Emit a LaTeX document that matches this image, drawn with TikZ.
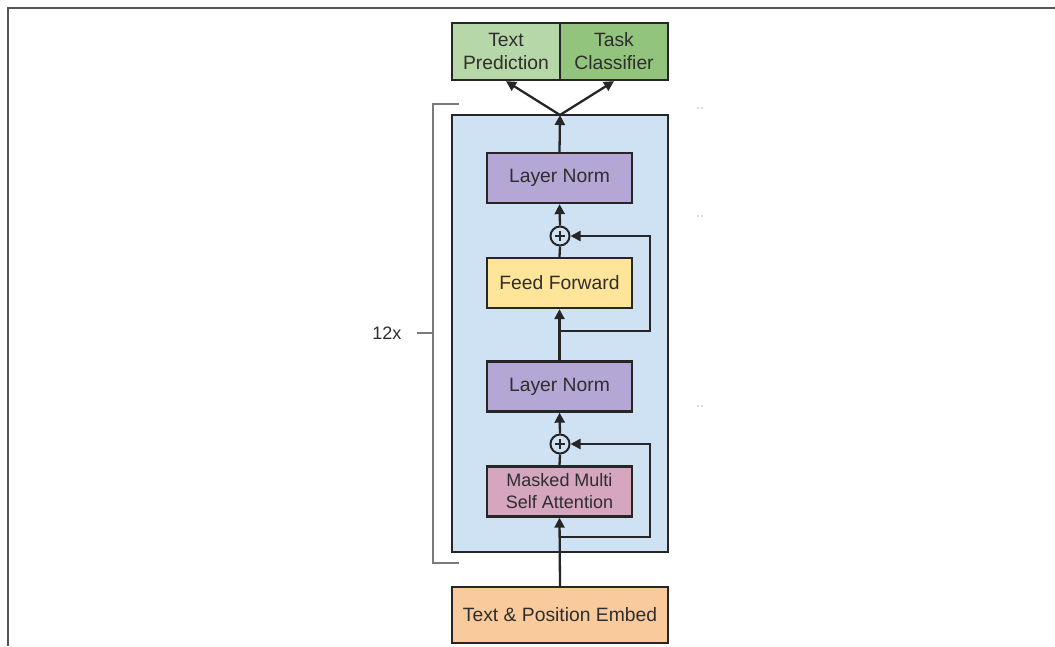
\documentclass[tikz,border=0pt]{standalone}
\usepackage{fontspec}
\setmainfont{Liberation Sans}
\usetikzlibrary{arrows.meta,calc}
\definecolor{edge}{HTML}{262626}
\definecolor{ink}{HTML}{2E2E2E}
\definecolor{blueback}{HTML}{CFE2F3}
\definecolor{normfill}{HTML}{B4A7D6}
\definecolor{fffill}{HTML}{FFE599}
\definecolor{attfill}{HTML}{D5A6BD}
\definecolor{embfill}{HTML}{F9CB9C}
\definecolor{lightgreen}{HTML}{B6D7A8}
\definecolor{darkgreen}{HTML}{93C47D}
\definecolor{bracketgrey}{HTML}{7A7A7A}
\definecolor{framegrey}{HTML}{555555}
\begin{document}
\begin{tikzpicture}[x=1pt,y=-1pt,
  blk/.style={draw=edge, line width=2.3pt, inner sep=0pt, align=center,
    text=ink, font=\fontsize{19.3}{23}\selectfont},
  inner/.style={blk, minimum width=145pt, minimum height=50pt},
  sumnode/.style={circle, draw=edge, line width=2pt, fill=blueback,
    minimum size=19pt, inner sep=0pt},
  arr/.style={draw=edge, line width=2.3pt, -{Triangle[length=10pt,width=10pt]}},
  wire/.style={draw=edge, line width=2.3pt},
  brace/.style={draw=bracketgrey, line width=1.4pt}]
\useasboundingbox (0,0) rectangle (1055,646);

% page frame
\draw[framegrey, line width=1.5pt] (8,646) -- (8,8) -- (1055,8);

% repeated block background
\node[draw=edge, line width=2.3pt, fill=blueback, minimum width=216pt,
  minimum height=437pt, inner sep=0pt] (stack) at (560,333.5) {};

% output heads
\node[blk, fill=lightgreen, minimum width=108pt, minimum height=57pt] (tp) at (506,51.5) {Text\\Prediction};
\node[blk, fill=darkgreen, minimum width=108pt, minimum height=57pt] (tc) at (614,51.5) {Task\\Classifier};

% decoder layer
\node[inner, fill=normfill] (ln1) at (559.5,178) {Layer Norm};
\node[sumnode] (p1) at (560,236) {};
\node[inner, fill=fffill] (ff) at (559.5,283) {Feed Forward};
\node[inner, fill=normfill] (ln2) at (559.5,386.5) {Layer Norm};
\node[sumnode] (p2) at (560,444) {};
\node[inner, fill=attfill, font=\fontsize{18}{22}\selectfont] (att) at (559.5,491.5) {Masked Multi\\Self Attention};

% input embedding
\node[blk, fill=embfill, minimum width=216pt, minimum height=56pt] (emb) at (560,615) {Text \& Position Embed};

% plus signs
\foreach \p in {p1,p2}{
  \draw[edge, line width=1.8pt] ([xshift=-5pt]\p.center) -- ([xshift=5pt]\p.center);
  \draw[edge, line width=1.8pt] ([yshift=-5pt]\p.center) -- ([yshift=5pt]\p.center);
}

% residual branch points
\coordinate (apex) at (560,115);
\coordinate (r1) at (560,331);
\coordinate (r2) at (560,537);

% main data path
\draw[arr] (emb.north) -- (att.south);
\draw[wire] (att.north) -- (p2.south);
\draw[arr] (p2.north) -- (ln2.south);
\draw[arr] (ln2.north) -- (ff.south);
\draw[wire] (ff.north) -- (p1.south);
\draw[arr] (p1.north) -- (ln1.south);
\draw[arr] (ln1.north) -- (apex);
\draw[arr] (apex) -- (tp.south);
\draw[arr] (apex) -- (tc.south);

% skip connections
\draw[arr, line join=miter] (r2) -- (650,537) -- (650,444) -- (p2.east);
\draw[arr, line join=miter] (r1) -- (650,331) -- (650,236) -- (p1.east);

% repetition bracket
\draw[brace] (459,104) -- (433,104) -- (433,563) -- (459,563);
\coordinate (bmid) at (433,333);
\draw[brace] (bmid) -- (417,333);
\node[text=ink, font=\fontsize{18}{21}\selectfont, anchor=east] (rep) at (405,333) {12x};

% faint marks beside the block
\foreach \yy in {108,216,406}{
  \fill[black!30] (698,\yy) circle (0.9pt);
  \fill[black!30] (702,\yy) circle (0.9pt);
}
\end{tikzpicture}
\end{document}
